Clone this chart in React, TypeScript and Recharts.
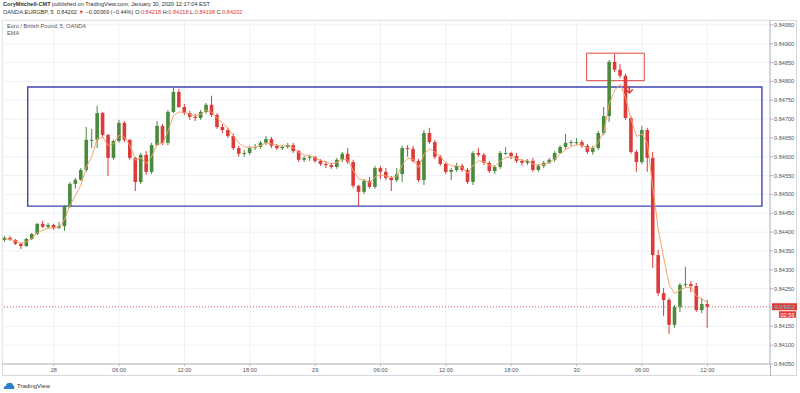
import { ComposedChart, Bar, Line, XAxis, YAxis, CartesianGrid, ReferenceArea, ReferenceLine, ReferenceDot } from "recharts";

// hours since Jan 28 00:00, one slot per 30 min (the last ones are empty space on the right)
const hours = [
  -4.5, -4, -3.5, -3, -2.5, -2, -1.5, -1, -0.5,
  0, 0.5, 1, 1.5, 2, 2.5, 3, 3.5, 4, 4.5, 5, 5.5,
  6, 6.5, 7, 7.5, 8, 8.5, 9, 9.5, 10, 10.5, 11, 11.5,
  12, 12.5, 13, 13.5, 14, 14.5, 15, 15.5, 16, 16.5, 17, 17.5,
  18, 18.5, 19, 19.5, 20, 20.5, 21, 21.5, 22, 22.5, 23, 23.5,
  24, 24.5, 25, 25.5, 26, 26.5, 27, 27.5, 28, 28.5, 29, 29.5,
  30, 30.5, 31, 31.5, 32, 32.5, 33, 33.5, 34, 34.5, 35, 35.5,
  36, 36.5, 37, 37.5, 38, 38.5, 39, 39.5, 40, 40.5, 41, 41.5,
  42, 42.5, 43, 43.5, 44, 44.5, 45, 45.5, 46, 46.5, 47, 47.5,
  48, 48.5, 49, 49.5, 50, 50.5, 51, 51.5, 52, 52.5, 53, 53.5,
  54, 54.5, 55, 55.5, 56, 56.5, 57, 57.5, 58, 58.5, 59, 59.5,
  60, 60.5, 61, 61.5, 62, 62.5, 63, 63.5, 64, 64.5, 65, 65.5,
];

const open = [
  0.84379, 0.84385, 0.84379, 0.84369, 0.84363, 0.84382, 0.84395, 0.84422, 0.84414, 0.84419,
  0.84411, 0.84416, 0.84467, 0.84528, 0.84539, 0.84565, 0.84645, 0.84645, 0.84716, 0.84658,
  0.84597, 0.84642, 0.8469, 0.84645, 0.84597, 0.84533, 0.84605, 0.8456, 0.84631, 0.84682,
  0.84637, 0.84719, 0.84772, 0.84732, 0.84716, 0.84706, 0.84703, 0.84719, 0.84738, 0.84711,
  0.84679, 0.84671, 0.84655, 0.84623, 0.84608, 0.8461, 0.84623, 0.84626, 0.84637, 0.84647,
  0.84629, 0.84623, 0.84626, 0.84631, 0.84615, 0.84592, 0.84597, 0.846, 0.84589, 0.84581,
  0.84578, 0.84573, 0.84592, 0.84608, 0.84586, 0.84523, 0.84507, 0.84536, 0.8452, 0.8457,
  0.8456, 0.84544, 0.84538, 0.84554, 0.84623, 0.84621, 0.84589, 0.84538, 0.84663, 0.84639,
  0.846, 0.84581, 0.8456, 0.84565, 0.84576, 0.84565, 0.84533, 0.8461, 0.84605, 0.84584,
  0.84562, 0.84573, 0.8461, 0.8461, 0.84602, 0.84589, 0.84584, 0.84589, 0.84565, 0.84576,
  0.84584, 0.84592, 0.8461, 0.84626, 0.84637, 0.84639, 0.84639, 0.84629, 0.84613, 0.84623,
  0.84663, 0.84708, 0.84852, 0.84831, 0.84815, 0.84703, 0.84613, 0.84586, 0.84671, 0.84597,
  0.84339, 0.84238, 0.8422, 0.84154, 0.84201, 0.8426, 0.84262, 0.84257, 0.84193, 0.84209,
];

const high = [
  0.8439, 0.8439, 0.84382, 0.84371, 0.84385, 0.84398, 0.84424, 0.8443, 0.84424, 0.84422,
  0.84427, 0.84472, 0.84533, 0.84544, 0.8457, 0.84679, 0.84674, 0.84735, 0.84719, 0.84661,
  0.84645, 0.84698, 0.84695, 0.84647, 0.846, 0.8461, 0.84615, 0.84637, 0.84695, 0.84687,
  0.84724, 0.84783, 0.8478, 0.8474, 0.84722, 0.84714, 0.84724, 0.84743, 0.84762, 0.84716,
  0.84687, 0.84677, 0.84661, 0.84629, 0.84618, 0.84629, 0.84634, 0.84642, 0.84655, 0.84653,
  0.84634, 0.84631, 0.84637, 0.84637, 0.84618, 0.84602, 0.84605, 0.84602, 0.84594, 0.84589,
  0.84584, 0.84597, 0.84613, 0.84623, 0.84592, 0.84525, 0.84541, 0.84546, 0.84576, 0.84576,
  0.8457, 0.84549, 0.8457, 0.84629, 0.84631, 0.84629, 0.84594, 0.84671, 0.84677, 0.84645,
  0.84605, 0.84586, 0.8457, 0.84584, 0.84581, 0.8457, 0.84615, 0.84623, 0.8461, 0.84589,
  0.84578, 0.84615, 0.84626, 0.84613, 0.8461, 0.84594, 0.84594, 0.84597, 0.84581, 0.84589,
  0.84597, 0.84615, 0.84631, 0.84661, 0.84645, 0.8465, 0.84645, 0.84634, 0.84629, 0.84669,
  0.84732, 0.84857, 0.84873, 0.84846, 0.8482, 0.84708, 0.84618, 0.84682, 0.84677, 0.84613,
  0.84353, 0.84252, 0.84225, 0.84207, 0.84265, 0.84308, 0.8427, 0.84265, 0.84225, 0.8422,
];

const low = [
  0.84374, 0.84377, 0.84366, 0.84355, 0.84361, 0.84379, 0.84392, 0.84411, 0.84408, 0.84406,
  0.84408, 0.84403, 0.84464, 0.84515, 0.84536, 0.8456, 0.84623, 0.84623, 0.84653, 0.84549,
  0.84592, 0.84637, 0.84639, 0.84592, 0.84509, 0.84528, 0.84552, 0.84554, 0.84629, 0.84631,
  0.84631, 0.84716, 0.8473, 0.84711, 0.84698, 0.84695, 0.84698, 0.84714, 0.84706, 0.84674,
  0.84663, 0.8465, 0.84618, 0.846, 0.846, 0.84605, 0.84618, 0.84621, 0.84631, 0.84623,
  0.84618, 0.84618, 0.84621, 0.8461, 0.84586, 0.84586, 0.84589, 0.84584, 0.84576, 0.8457,
  0.84568, 0.84568, 0.84586, 0.84581, 0.84517, 0.84469, 0.84501, 0.84515, 0.84515, 0.84541,
  0.84538, 0.84509, 0.84533, 0.84533, 0.846, 0.84584, 0.84533, 0.84525, 0.84634, 0.84594,
  0.84576, 0.84554, 0.84538, 0.8456, 0.8456, 0.84528, 0.84525, 0.846, 0.84578, 0.84557,
  0.84554, 0.84568, 0.84605, 0.84594, 0.84584, 0.84576, 0.84578, 0.8456, 0.8456, 0.8457,
  0.84581, 0.84586, 0.84608, 0.84621, 0.84629, 0.84631, 0.84623, 0.84608, 0.84605, 0.84618,
  0.84658, 0.84692, 0.84825, 0.84809, 0.84698, 0.84608, 0.8456, 0.84581, 0.8456, 0.84305,
  0.84231, 0.84177, 0.8413, 0.84146, 0.84188, 0.84254, 0.84241, 0.84188, 0.84185, 0.84146,
];

const close = [
  0.84385, 0.84379, 0.84369, 0.84363, 0.84382, 0.84395, 0.84422, 0.84414, 0.84419, 0.84411,
  0.84416, 0.84467, 0.84528, 0.84539, 0.84565, 0.84645, 0.84645, 0.84716, 0.84658, 0.84597,
  0.84642, 0.8469, 0.84645, 0.84597, 0.84533, 0.84605, 0.8456, 0.84631, 0.84682, 0.84637,
  0.84719, 0.84772, 0.84732, 0.84716, 0.84706, 0.84703, 0.84719, 0.84738, 0.84711, 0.84679,
  0.84671, 0.84655, 0.84623, 0.84608, 0.8461, 0.84623, 0.84626, 0.84637, 0.84647, 0.84629,
  0.84623, 0.84626, 0.84631, 0.84615, 0.84592, 0.84597, 0.846, 0.84589, 0.84581, 0.84578,
  0.84573, 0.84592, 0.84608, 0.84586, 0.84523, 0.84507, 0.84536, 0.8452, 0.8457, 0.8456,
  0.84544, 0.84538, 0.84554, 0.84623, 0.84621, 0.84589, 0.84538, 0.84663, 0.84639, 0.846,
  0.84581, 0.8456, 0.84565, 0.84576, 0.84565, 0.84533, 0.8461, 0.84605, 0.84584, 0.84562,
  0.84573, 0.8461, 0.8461, 0.84602, 0.84589, 0.84584, 0.84589, 0.84565, 0.84576, 0.84584,
  0.84592, 0.8461, 0.84626, 0.84637, 0.84639, 0.84639, 0.84629, 0.84613, 0.84623, 0.84663,
  0.84708, 0.84852, 0.84831, 0.84815, 0.84703, 0.84613, 0.84586, 0.84671, 0.84597, 0.84339,
  0.84238, 0.8422, 0.84154, 0.84201, 0.8426, 0.84262, 0.84257, 0.84193, 0.84209, 0.84202,
];

const ema = [
  0.84382, 0.84381, 0.84376, 0.84371, 0.84375, 0.84383, 0.84399, 0.84405, 0.84411, 0.84411,
  0.84413, 0.84434, 0.84472, 0.84498, 0.84525, 0.84573, 0.84602, 0.84648, 0.84652, 0.8463,
  0.84635, 0.84657, 0.84652, 0.8463, 0.84591, 0.84597, 0.84582, 0.84602, 0.84634, 0.84635,
  0.84669, 0.8471, 0.84719, 0.84718, 0.84713, 0.84709, 0.84713, 0.84723, 0.84718, 0.84703,
  0.8469, 0.84676, 0.84655, 0.84636, 0.84626, 0.84625, 0.84625, 0.8463, 0.84637, 0.84634,
  0.8463, 0.84628, 0.8463, 0.84624, 0.84611, 0.84605, 0.84603, 0.84597, 0.84591, 0.84586,
  0.84581, 0.84585, 0.84594, 0.84591, 0.84563, 0.84541, 0.84539, 0.84531, 0.84547, 0.84552,
  0.84549, 0.84545, 0.84549, 0.84579, 0.84596, 0.84593, 0.84571, 0.84608, 0.84621, 0.84612,
  0.846, 0.84584, 0.84576, 0.84576, 0.84572, 0.84556, 0.84578, 0.84589, 0.84587, 0.84577,
  0.84575, 0.84589, 0.84598, 0.846, 0.84595, 0.84591, 0.8459, 0.8458, 0.84578, 0.8458,
  0.84585, 0.84595, 0.84608, 0.84619, 0.84627, 0.84632, 0.84631, 0.84623, 0.84623, 0.84639,
  0.84667, 0.84741, 0.84777, 0.84792, 0.84756, 0.84699, 0.84654, 0.84661, 0.84635, 0.84517,
  0.84406, 0.84331, 0.8426, 0.84237, 0.84246, 0.84253, 0.84254, 0.8423, 0.84222, 0.84214,
];

const priceTicks = [
  0.8405, 0.841, 0.8415, 0.842, 0.8425, 0.843, 0.8435, 0.844, 0.8445, 0.845,
  0.8455, 0.846, 0.8465, 0.847, 0.8475, 0.848, 0.8485, 0.849, 0.8495,
];
const timeTicks = [0, 6, 12, 18, 24, 30, 36, 42, 48, 54, 60];
const timeLabels = ["28", "06:00", "12:00", "18:00", "29", "06:00", "12:00", "18:00", "30", "06:00", "12:00"];

const UP = "#4a8a3c";
const DOWN = "#dd3a3a";
const FONT = '"Liberation Sans", Arial, sans-serif';
const lastPrice = close[close.length - 1];

const rows = hours.map((t, i) => ({
  t,
  open: open[i] ?? null,
  high: high[i] ?? null,
  low: low[i] ?? null,
  close: close[i] ?? null,
  range: i < close.length ? [low[i], high[i]] : undefined,
  ema: ema[i] ?? null,
}));

function Candle(props: any) {
  const { x, y, width, height, payload } = props;
  if (!payload || payload.close == null || !isFinite(y) || !isFinite(height)) return null;
  const top = Math.min(y, y + height);
  const h = Math.abs(height);
  const span = payload.high - payload.low || 1e-9;
  const py = (p: number) => top + ((payload.high - p) / span) * h;
  const cx = x + width / 2;
  const c = payload.close >= payload.open ? UP : DOWN;
  const yo = py(payload.open);
  const yc = py(payload.close);
  return (
    <g>
      <line x1={cx} x2={cx} y1={top} y2={top + h} stroke={c} strokeWidth={1} />
      <rect x={cx - 1.8} y={Math.min(yo, yc)} width={3.6} height={Math.max(Math.abs(yo - yc), 1)} fill={c} />
    </g>
  );
}

function Arrow(props: any) {
  const { cx, cy } = props;
  return (
    <g stroke="#e53935" strokeWidth={1.6} fill="none">
      <path d={`M${cx} ${cy - 4} L${cx} ${cy + 2.5}`} />
      <path d={`M${cx - 3.5} ${cy - 1} L${cx} ${cy + 2.5} L${cx + 3.5} ${cy - 1}`} />
    </g>
  );
}

function PriceTag(props: any) {
  const { x, y, width } = props.viewBox;
  const lx = x + width + 2;
  return (
    <g fontFamily={FONT} fontSize={5.6}>
      <rect x={lx} y={y - 3.5} width={25} height={7} fill="#e53935" />
      <text x={lx + 12.5} y={y + 2} textAnchor="middle" fill="#fff">{lastPrice.toFixed(5)}</text>
      <rect x={lx + 7} y={y + 4.5} width={17} height={6.5} fill="#e53935" />
      <text x={lx + 15.5} y={y + 9.8} textAnchor="middle" fill="#fff">02:56</text>
    </g>
  );
}

export default function App() {
  return (
    <div style={{ position: "fixed", left: 0, top: 0, width: 800, height: 393, background: "#fff", fontFamily: FONT }}>
      <div style={{ position: "absolute", left: 3, top: 1, fontSize: 5.6, color: "#333", whiteSpace: "nowrap" }}>
        <b>CoryMitchell-CMT</b> published on TradingView.com, January 30, 2020 12:17:04 EST
      </div>
      <div style={{ position: "absolute", left: 3, top: 9, fontSize: 5.6, color: "#333", whiteSpace: "nowrap" }}>
        OANDA:EURGBP, 5 &nbsp;0.84202 <span style={{ color: "#e53935" }}>▼</span> −0.00369 (−0.44%) O:
        <span style={{ color: "#e53935" }}>0.84218</span> H:<span style={{ color: "#e53935" }}>0.84218</span> L:
        <span style={{ color: "#e53935" }}>0.84198</span> C:<span style={{ color: "#e53935" }}>0.84202</span>
      </div>
      <div style={{ position: "absolute", left: 2, top: 20, width: 795, height: 356, border: "1px solid #d6d8de", boxSizing: "border-box" }} />
      <div style={{ position: "absolute", left: 770, top: 364, width: 1, height: 12, background: "#b2b5be" }} />
      <div style={{ position: "absolute", left: 0, top: 0 }}>
        <ComposedChart width={800} height={393} data={rows} margin={{ top: 20, right: 3, bottom: 17, left: 2 }}>
          <CartesianGrid xAxisId="num" yAxisId="p" stroke="#eff1f5" />
          <XAxis xAxisId="cat" dataKey="t" type="category" hide height={0} />
          <XAxis
            xAxisId="num"
            dataKey="t"
            type="number"
            domain={[-4.75, 65.75]}
            allowDataOverflow
            ticks={timeTicks}
            interval={0}
            tickFormatter={(v: number) => timeLabels[timeTicks.indexOf(v)]}
            height={12}
            tickSize={2}
            tickMargin={2}
            axisLine={{ stroke: "#b2b5be" }}
            tickLine={{ stroke: "#b2b5be" }}
            tick={{ fontSize: 5.6, fill: "#555", fontFamily: FONT }}
          />
          <YAxis
            yAxisId="p"
            orientation="right"
            domain={[0.8405, 0.84963]}
            allowDataOverflow
            ticks={priceTicks}
            interval={0}
            width={27}
            tickSize={3}
            tickMargin={1}
            tickFormatter={(v: number) => v.toFixed(5)}
            axisLine={{ stroke: "#b2b5be" }}
            tickLine={{ stroke: "#b2b5be" }}
            tick={{ fontSize: 5.6, fill: "#555", fontFamily: FONT }}
          />
          <ReferenceArea xAxisId="num" yAxisId="p" x1={-2.39} x2={65.01} y1={0.84469} y2={0.84785} fill="none" stroke="#3d44b3" strokeWidth={1.4} />
          <ReferenceArea xAxisId="num" yAxisId="p" x1={48.92} x2={54.21} y1={0.84802} y2={0.84875} fill="none" stroke="#e04848" strokeWidth={1} />
          <ReferenceLine xAxisId="num" yAxisId="p" y={lastPrice} stroke="#e57373" strokeDasharray="1 2" label={<PriceTag />} />
          <Bar xAxisId="cat" yAxisId="p" dataKey="range" shape={<Candle />} isAnimationActive={false} />
          <Line xAxisId="cat" yAxisId="p" dataKey="ema" stroke="#f3a46b" strokeWidth={1} dot={false} isAnimationActive={false} />
          <ReferenceDot xAxisId="num" yAxisId="p" x={52.83} y={0.84776} shape={<Arrow />} />
        </ComposedChart>
      </div>
      <div style={{ position: "absolute", left: 7, top: 23, fontSize: 5.6, color: "#555", whiteSpace: "nowrap" }}>
        Euro / British Pound, 5, OANDA
      </div>
      <div style={{ position: "absolute", left: 7, top: 30, fontSize: 5.6, color: "#555" }}>EMA</div>
      <div style={{ position: "absolute", left: 3, top: 381, display: "flex", alignItems: "center", gap: 2 }}>
        <svg width={12} height={9} viewBox="0 0 12 9">
          <path d="M1 8 Q0 5 3 5 Q3 2 6 2 Q9 1 10 4 Q12 5 11 8 Z" fill="#2f80c9" />
        </svg>
        <span style={{ fontSize: 6, color: "#333" }}>TradingView</span>
      </div>
    </div>
  );
}
